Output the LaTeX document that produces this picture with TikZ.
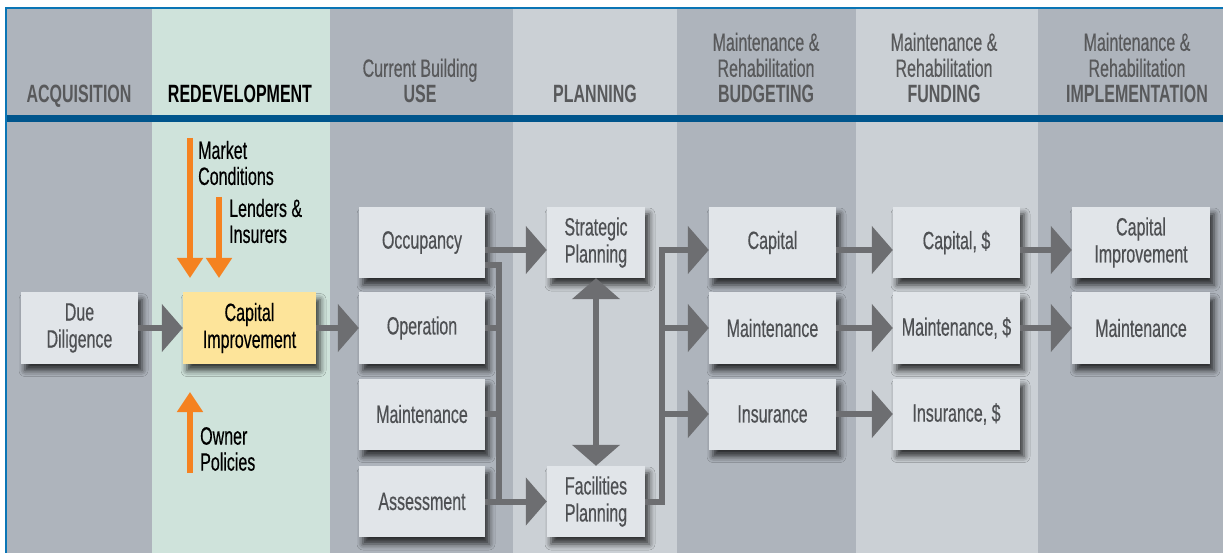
\documentclass[tikz,border=0pt]{standalone}
\usepackage{fontspec}
\setmainfont[FakeStretch=0.64, UprightFeatures={FakeBold=0.4}]{Liberation Sans}
\usetikzlibrary{arrows.meta,shadows.blur}
\definecolor{colgray}{HTML}{AEB4BC}
\definecolor{colgreen}{HTML}{CFE3DB}
\definecolor{collight}{HTML}{CBD0D5}
\definecolor{boxfill}{HTML}{E1E5E9}
\definecolor{boxyellow}{HTML}{FDE49A}
\definecolor{arrowgray}{HTML}{6D6E71}
\definecolor{orangeA}{HTML}{F58220}
\definecolor{stripeblue}{HTML}{00558C}
\definecolor{borderblue}{HTML}{0A75B5}
\definecolor{hdrgray}{HTML}{58595B}
\definecolor{bodytext}{HTML}{4E5053}
\begin{document}
\begin{tikzpicture}[x=1pt,y=-1pt,
  box/.style={fill=boxfill, minimum height=71pt, inner sep=0pt, align=center,
    text=bodytext, font=\fontsize{25}{27}\selectfont,
    blur shadow={shadow xshift=4pt, shadow yshift=-7pt, shadow blur radius=6pt, shadow opacity=75}},
  garrow/.style={draw=arrowgray, line width=6pt, line join=miter, -{Triangle[width=47pt,length=21pt]}},
  gdouble/.style={draw=arrowgray, line width=6pt, {Triangle[width=47pt,length=21pt]}-{Triangle[width=47pt,length=21pt]}},
  gline/.style={draw=arrowgray, line width=6pt, line join=miter},
  oarrow/.style={draw=orangeA, line width=6pt, -{Triangle[width=25pt,length=20pt]}},
  hdr/.style={align=center, inner sep=0pt, text=hdrgray, text depth=0pt, anchor=south,
    font=\fontsize{25}{26}\selectfont},
  lbl/.style={align=left, inner sep=0pt, text=black, anchor=west, font=\fontsize{25}{26}\selectfont}
]
\useasboundingbox (0,0) rectangle (1223,553);
% columns
\fill[colgray]  (7,9) rectangle (152,553);
\fill[colgreen] (152,9) rectangle (330,553);
\fill[colgray]  (330,9) rectangle (513,553);
\fill[collight] (513,9) rectangle (677,553);
\fill[colgray]  (677,9) rectangle (856,553);
\fill[collight] (856,9) rectangle (1038,553);
\fill[colgray]  (1038,9) rectangle (1223,553);
% frame
\fill[stripeblue] (7,115) rectangle (1223,122);
\draw[borderblue, line width=2pt] (6,553) -- (6,8) -- (1223,8);
% headers
\node[hdr] (hA) at (79,103) {\textbf{ACQUISITION}};
\node[hdr, text=black] (hR) at (240,103) {\textbf{REDEVELOPMENT}};
\node[hdr] (hU) at (420,103) {Current Building\\\textbf{USE}};
\node[hdr] (hP) at (595,103) {\textbf{PLANNING}};
\node[hdr] (hB) at (766,103) {Maintenance \&\\Rehabilitation\\\textbf{BUDGETING}};
\node[hdr] (hF) at (944,103) {Maintenance \&\\Rehabilitation\\\textbf{FUNDING}};
\node[hdr] (hI) at (1137,103) {Maintenance \&\\Rehabilitation\\\textbf{IMPLEMENTATION}};
% boxes
\node[box, minimum width=117pt] (dd) at (79.5,328) {Due\\Diligence};
\node[box, minimum width=133pt, fill=boxyellow, text=black] (ci) at (249.5,328) {Capital\\Improvement};
\node[box, minimum width=126pt] (occ) at (422,242.5) {Occupancy};
\node[box, minimum width=126pt] (op) at (422,328) {Operation};
\node[box, minimum width=126pt] (mt) at (422,414) {Maintenance};
\node[box, minimum width=126pt] (as) at (422,501.5) {Assessment};
\node[box, minimum width=98pt] (sp) at (596,242.5) {Strategic\\Planning};
\node[box, minimum width=98pt] (fp) at (596,501.5) {Facilities\\Planning};
\node[box, minimum width=127pt] (bc) at (772.5,242.5) {Capital};
\node[box, minimum width=127pt] (bm) at (772.5,328) {Maintenance};
\node[box, minimum width=127pt] (bi) at (772.5,414) {Insurance};
\node[box, minimum width=127pt] (fc) at (956.5,242.5) {Capital, \$};
\node[box, minimum width=127pt] (fm) at (956.5,328) {Maintenance, \$};
\node[box, minimum width=127pt] (fi) at (956.5,414) {Insurance, \$};
\node[box, minimum width=138pt] (ic) at (1141,242.5) {Capital\\Improvement};
\node[box, minimum width=138pt] (im) at (1141,328) {Maintenance};
% orange influences
\coordinate (m1) at (190,138); \coordinate (m2) at (190,278);
\coordinate (l1) at (219,197); \coordinate (l2) at (219,278);
\coordinate (o1) at (190,473); \coordinate (o2) at (190,392);
\draw[oarrow] (m1) -- (m2);
\draw[oarrow] (l1) -- (l2);
\draw[oarrow] (o1) -- (o2);
\node[lbl] (tm) at (198,163) {Market\\Conditions};
\node[lbl] (tl) at (229,221) {Lenders \&\\Insurers};
\node[lbl] (to) at (200,449) {Owner\\Policies};
% gray connectors
\draw[garrow] (dd) -- (ci);
\draw[garrow] (ci) -- (op);
\draw[garrow] ([yshift=-7.5pt]occ.east) -- ([yshift=-7.5pt]sp.west);
\coordinate (b1) at (499,265);
\draw[gline] ([yshift=-22.5pt]occ.east) -- (b1) -- (b1 |- as.east);
\draw[gline] (op.east) -- (op.east -| b1);
\draw[gline] (mt.east) -- (mt.east -| b1);
\draw[garrow] (as.east) -- (fp.west);
\draw[gdouble] (sp.south) -- (fp.north);
\coordinate (c1) at (662,250);
\draw[garrow] (fp.east) -| (c1) -- (c1 -| bc.west);
\draw[garrow] (c1 |- bm.west) -- (bm.west);
\draw[garrow] (c1 |- bi.west) -- (bi.west);
\draw[garrow] ([yshift=-7.5pt]bc.east) -- ([yshift=-7.5pt]fc.west);
\draw[garrow] (bm) -- (fm);
\draw[garrow] (bi) -- (fi);
\draw[garrow] ([yshift=-7.5pt]fc.east) -- ([yshift=-7.5pt]ic.west);
\draw[garrow] (fm) -- (im);
\end{tikzpicture}
\end{document}
